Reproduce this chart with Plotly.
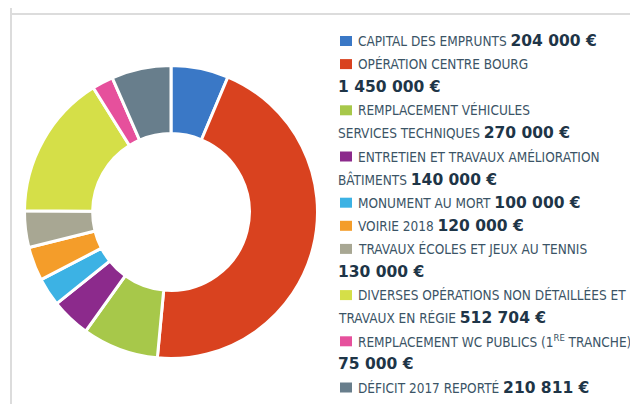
import plotly.graph_objects as go

# ---- data ----
categories = [
    "CAPITAL DES EMPRUNTS",
    "OPÉRATION CENTRE BOURG",
    "REMPLACEMENT VÉHICULES SERVICES TECHNIQUES",
    "ENTRETIEN ET TRAVAUX AMÉLIORATION BÂTIMENTS",
    "MONUMENT AU MORT",
    "VOIRIE 2018",
    "TRAVAUX ÉCOLES ET JEUX AU TENNIS",
    "DIVERSES OPÉRATIONS NON DÉTAILLÉES ET TRAVAUX EN RÉGIE",
    "REMPLACEMENT WC PUBLICS (1RE TRANCHE)",
    "DÉFICIT 2017 REPORTÉ",
]
values = [204000, 1450000, 270000, 140000, 100000, 120000, 130000, 512704, 75000, 210811]
value_labels = ["204 000 €", "1 450 000 €", "270 000 €", "140 000 €", "100 000 €",
                "120 000 €", "130 000 €", "512 704 €", "75 000 €", "210 811 €"]
# legend text broken into lines as in the original ({v} = amount)
legend_lines = [
    ["CAPITAL DES EMPRUNTS {v}"],
    ["OPÉRATION CENTRE BOURG", "{v}"],
    ["REMPLACEMENT VÉHICULES", "SERVICES TECHNIQUES {v}"],
    ["ENTRETIEN ET TRAVAUX AMÉLIORATION", "BÂTIMENTS {v}"],
    ["MONUMENT AU MORT {v}"],
    ["VOIRIE 2018 {v}"],
    ["TRAVAUX ÉCOLES ET JEUX AU TENNIS", "{v}"],
    ["DIVERSES OPÉRATIONS NON DÉTAILLÉES ET", "TRAVAUX EN RÉGIE {v}"],
    ["REMPLACEMENT WC PUBLICS (1<sup>RE</sup> TRANCHE)", "{v}"],
    ["DÉFICIT 2017 REPORTÉ {v}"],
]
colors = ["#3a78c6", "#d9421f", "#a7c84a", "#8c2a8c", "#3cb2e4",
          "#f49d2a", "#a8a793", "#d5df48", "#e6509c", "#687e8c"]

# ---- layout constants ----
# the page body has an 8px margin on every side, so the figure sits at (8, 8)
OFF = 8
W, H = 638 - 2 * OFF, 412 - 2 * OFF
def px(x):
    return (x - OFF) / W
def py(y):
    return 1 - (y - OFF) / H

cx, cy, R = 171, 212, 146.5

fig = go.Figure(go.Pie(
    labels=categories,
    values=values,
    sort=False,
    direction="clockwise",
    rotation=0,
    hole=0.535,
    marker=dict(colors=colors, line=dict(color="white", width=3)),
    textinfo="none",
    showlegend=False,
    domain=dict(x=[px(cx - R), px(cx + R)], y=[py(cy + R), py(cy - R)]),
))

label_font = "DejaVu Sans Condensed, Liberation Sans Narrow, sans-serif"
value_style = "font-family:'DejaVu Sans';font-weight:bold;font-size:15.5px;color:#1e3547"
text_color = "#3b5466"

annotations = []
shapes = []
y0, step = 41, 23.1
x_first, x_cont = 356, 336
line_idx = 0
for i, lines in enumerate(legend_lines):
    y = y0 + step * line_idx
    shapes.append(dict(type="rect", xref="paper", yref="paper",
                       x0=px(340), x1=px(352), y0=py(y + 5), y1=py(y - 5),
                       fillcolor=colors[i], line=dict(width=0)))
    for j, ln in enumerate(lines):
        yy = y0 + step * line_idx
        txt = ln.replace("{v}", f"<span style=\"{value_style}\">{value_labels[i]}</span>")
        annotations.append(dict(
            x=px(x_first if j == 0 else x_cont), y=py(yy), xref="paper", yref="paper",
            xanchor="left", yanchor="middle", showarrow=False, text=txt,
            font=dict(family=label_font, size=13.5, color=text_color),
        ))
        line_idx += 1

# frame lines
shapes.append(dict(type="line", xref="paper", yref="paper", x0=px(11), x1=px(11), y0=0, y1=1,
                   line=dict(color="#dcdcdc", width=2)))
shapes.append(dict(type="line", xref="paper", yref="paper", x0=px(11), x1=1, y0=py(14), y1=py(14),
                   line=dict(color="#dcdcdc", width=2)))

fig.update_layout(
    width=W, height=H,
    margin=dict(l=0, r=0, t=0, b=0),
    paper_bgcolor="white",
    plot_bgcolor="white",
    annotations=annotations,
    shapes=shapes,
)

fig.write_html("out.html")
